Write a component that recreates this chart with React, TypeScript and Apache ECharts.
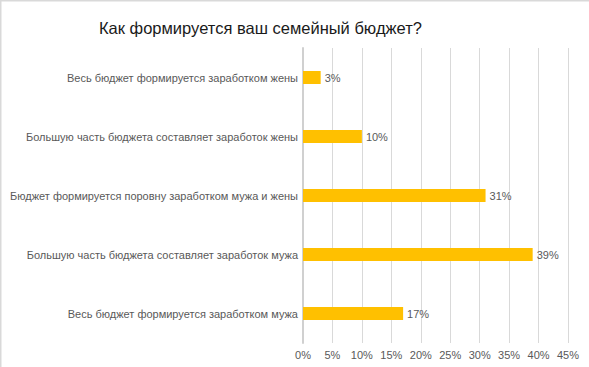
import React, { useEffect, useRef } from "react";
import * as echarts from "echarts";

const categories = [
  "Весь бюджет формируется заработком мужа",
  "Большую часть бюджета составляет заработок мужа",
  "Бюджет формируется поровну заработком мужа и жены",
  "Большую часть бюджета составляет заработок жены",
  "Весь бюджет формируется заработком жены",
];
const values = [17, 39, 31, 10, 3];
const titleText = "Как формируется ваш семейный бюджет?";

export default function App() {
  const ref = useRef<HTMLDivElement>(null);
  useEffect(() => {
    const chart = echarts.init(ref.current!, null, { renderer: "svg" });
    chart.setOption({
      animation: false,
      backgroundColor: "#ffffff",
      textStyle: { fontFamily: "Liberation Sans" },
      title: {
        text: titleText,
        left: 94,
        top: 14,
        textStyle: { fontSize: 16.5, fontWeight: "normal", color: "#1a1a1a", fontFamily: "Liberation Sans" },
      },
      graphic: [
        { type: "line", shape: { x1: 0, y1: 0.5, x2: 589, y2: 0.5 }, style: { stroke: "#d9d9d9", lineWidth: 2 } },
        { type: "line", shape: { x1: 0.5, y1: 0, x2: 0.5, y2: 367 }, style: { stroke: "#d9d9d9", lineWidth: 2 } },
      ],
      grid: { left: 303, right: 21, top: 48, bottom: 24, containLabel: false },
      xAxis: {
        type: "value",
        min: 0,
        max: 45,
        interval: 5,
        axisLine: { show: false },
        axisTick: { show: false },
        splitLine: { lineStyle: { color: "#d9d9d9", width: 1 } },
        axisLabel: { formatter: "{value}%", color: "#595959", fontSize: 11, margin: 6 },
      },
      yAxis: {
        type: "category",
        data: categories,
        axisLine: { show: true, lineStyle: { color: "#d0d0d0", width: 2 } },
        axisTick: { show: false },
        axisLabel: { color: "#595959", fontSize: 11, margin: 5 },
      },
      series: [
        {
          type: "bar",
          data: values,
          barWidth: 13,
          itemStyle: { color: "#FFC000" },
          label: { show: true, position: "right", formatter: "{c}%", color: "#595959", fontSize: 11, distance: 4 },
        },
      ],
    });
    return () => chart.dispose();
  }, []);
  return <div ref={ref} style={{ position: "fixed", left: 0, top: 0, width: 589, height: 367 }} />;
}
